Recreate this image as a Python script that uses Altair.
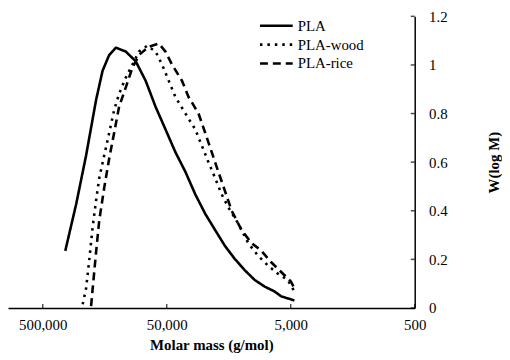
import altair as alt
import pandas as pd

series_order = ["PLA", "PLA-wood", "PLA-rice"]

pla_m = [329000, 268500, 223400, 185800, 164800, 145500, 128500, 106900, 88900, 73960,
         61520, 51170, 42560, 35400, 29440, 24490, 20370, 16940, 14090, 11720,
         9750, 8110, 6750, 5970, 4670]
pla_w = [0.235, 0.428, 0.628, 0.855, 0.975, 1.041, 1.071, 1.055, 1.015, 0.935,
         0.828, 0.735, 0.641, 0.561, 0.468, 0.388, 0.321, 0.255, 0.201, 0.155,
         0.115, 0.088, 0.068, 0.048, 0.031]

wood_m = [238200, 223400, 210400, 197700, 185800, 175000, 159600, 145500, 132700, 121100,
          106900, 94620, 83750, 71780, 61520, 54450, 48190, 42560, 35400, 29440,
          26060, 23070, 20370, 18030, 15960, 13270, 11040, 9180, 7640, 6350, 5280, 4670]
wood_w = [0.015, 0.081, 0.201, 0.335, 0.441, 0.535, 0.628, 0.721, 0.815, 0.881,
          0.948, 1.001, 1.055, 1.079, 1.055, 1.001, 0.935, 0.868, 0.801, 0.735,
          0.668, 0.601, 0.535, 0.468, 0.415, 0.348, 0.268, 0.215, 0.175, 0.141, 0.115, 0.068]

rice_m = [203700, 197700, 185800, 175000, 159600, 145500, 132700, 121100, 106900, 94620,
          83750, 69660, 57940, 51170, 45290, 37670, 33340, 27730, 24490, 21680,
          19190, 16940, 15000, 12470, 10380, 8630, 7180, 5970, 4970, 4670]
rice_w = [0.008, 0.081, 0.228, 0.361, 0.495, 0.615, 0.721, 0.828, 0.908, 0.988,
          1.041, 1.075, 1.088, 1.055, 1.001, 0.935, 0.868, 0.801, 0.721, 0.641,
          0.561, 0.481, 0.401, 0.321, 0.268, 0.235, 0.188, 0.148, 0.108, 0.081]

x_ticks = [500000, 50000, 5000, 500]
y_ticks = [0, 0.2, 0.4, 0.6, 0.8, 1.0, 1.2]

rows = []
for name, ms, ws in [("PLA", pla_m, pla_w), ("PLA-wood", wood_m, wood_w), ("PLA-rice", rice_m, rice_w)]:
    for m, w in zip(ms, ws):
        rows.append({"series": name, "M": m, "W": w})
df = pd.DataFrame(rows)

FONT = "Times New Roman, Liberation Serif, DejaVu Serif, serif"


def build(encode_form):
    xscale = alt.Scale(type="log", domain=[500, 953000], reverse=True, nice=False)
    yscale = alt.Scale(domain=[0, 1.2], nice=False, zero=True)
    if encode_form is None:
        dashes = [[1, 0], [2.5, 5], [8, 5]]
        cap = "butt"
    else:
        dashes = [[1, 0], [0.1, 7.4], [8, 5]]
        cap = "round"
    leg_kw = dict(title=None, orient="none", legendX=263, legendY=2,
                  symbolType="M-3,0L3,0", symbolSize=121, symbolStrokeWidth=2.6,
                  symbolStrokeColor="black", labelFont=FONT, labelFontSize=15,
                  labelColor="black", rowPadding=3, labelOffset=14)
    if encode_form is not None:
        leg_kw["encode"] = encode_form
    lines = alt.Chart(df).mark_line(color="black", strokeWidth=2.6, strokeCap=cap,
                                    strokeJoin="round").encode(
        x=alt.X("M:Q", scale=xscale,
                axis=alt.Axis(values=x_ticks, format=",", tickSize=0, grid=False,
                              labelFlush=False, labelOverlap=False, labelBound=False,
                              labelFont=FONT, labelFontSize=15, labelColor="black",
                              labelPadding=10, domainColor="black", domainWidth=1.5,
                              title="Molar mass (g/mol)", titleFont=FONT, titleFontSize=15,
                              titleFontWeight="bold", titleColor="black", titlePadding=5)),
        y=alt.Y("W:Q", scale=yscale,
                axis=alt.Axis(orient="right", values=y_ticks, format="~g", tickSize=0,
                              grid=False, labelFont=FONT, labelFontSize=15,
                              labelColor="black", labelPadding=14, labelAlign="left",
                              domainColor="black", domainWidth=1.5,
                              title="W(log M)", titleFont=FONT, titleFontSize=15,
                              titleFontWeight="bold", titleColor="black",
                              titleAngle=270, titlePadding=55)),
        strokeDash=alt.StrokeDash("series:N",
                                  scale=alt.Scale(domain=series_order, range=dashes),
                                  legend=alt.Legend(**leg_kw)),
        detail="series:N",
    )
    xt = alt.Chart(pd.DataFrame({"M": x_ticks})).mark_tick(
        orient="vertical", size=4, thickness=1.5, color="black", yOffset=-2).encode(
        x=alt.X("M:Q"), y=alt.datum(0))
    yt = alt.Chart(pd.DataFrame({"W": y_ticks})).mark_tick(
        orient="horizontal", size=4, thickness=1.5, color="black", xOffset=-2).encode(
        y=alt.Y("W:Q"), x=alt.datum(500))
    ch = alt.layer(lines, xt, yt).properties(width=410, height=294, padding=0).configure_view(
        stroke=None)
    return ch


chart = None
for form in [{"symbols": {"update": {"strokeCap": {"value": "round"}}}},
             {"symbols": {"strokeCap": {"value": "round"}}}]:
    try:
        c = build(form)
        c.to_dict()
        chart = c
        break
    except Exception:
        continue
if chart is None:
    chart = build(None)

chart.save("out.html", embed_options={"renderer": "svg", "actions": False})
